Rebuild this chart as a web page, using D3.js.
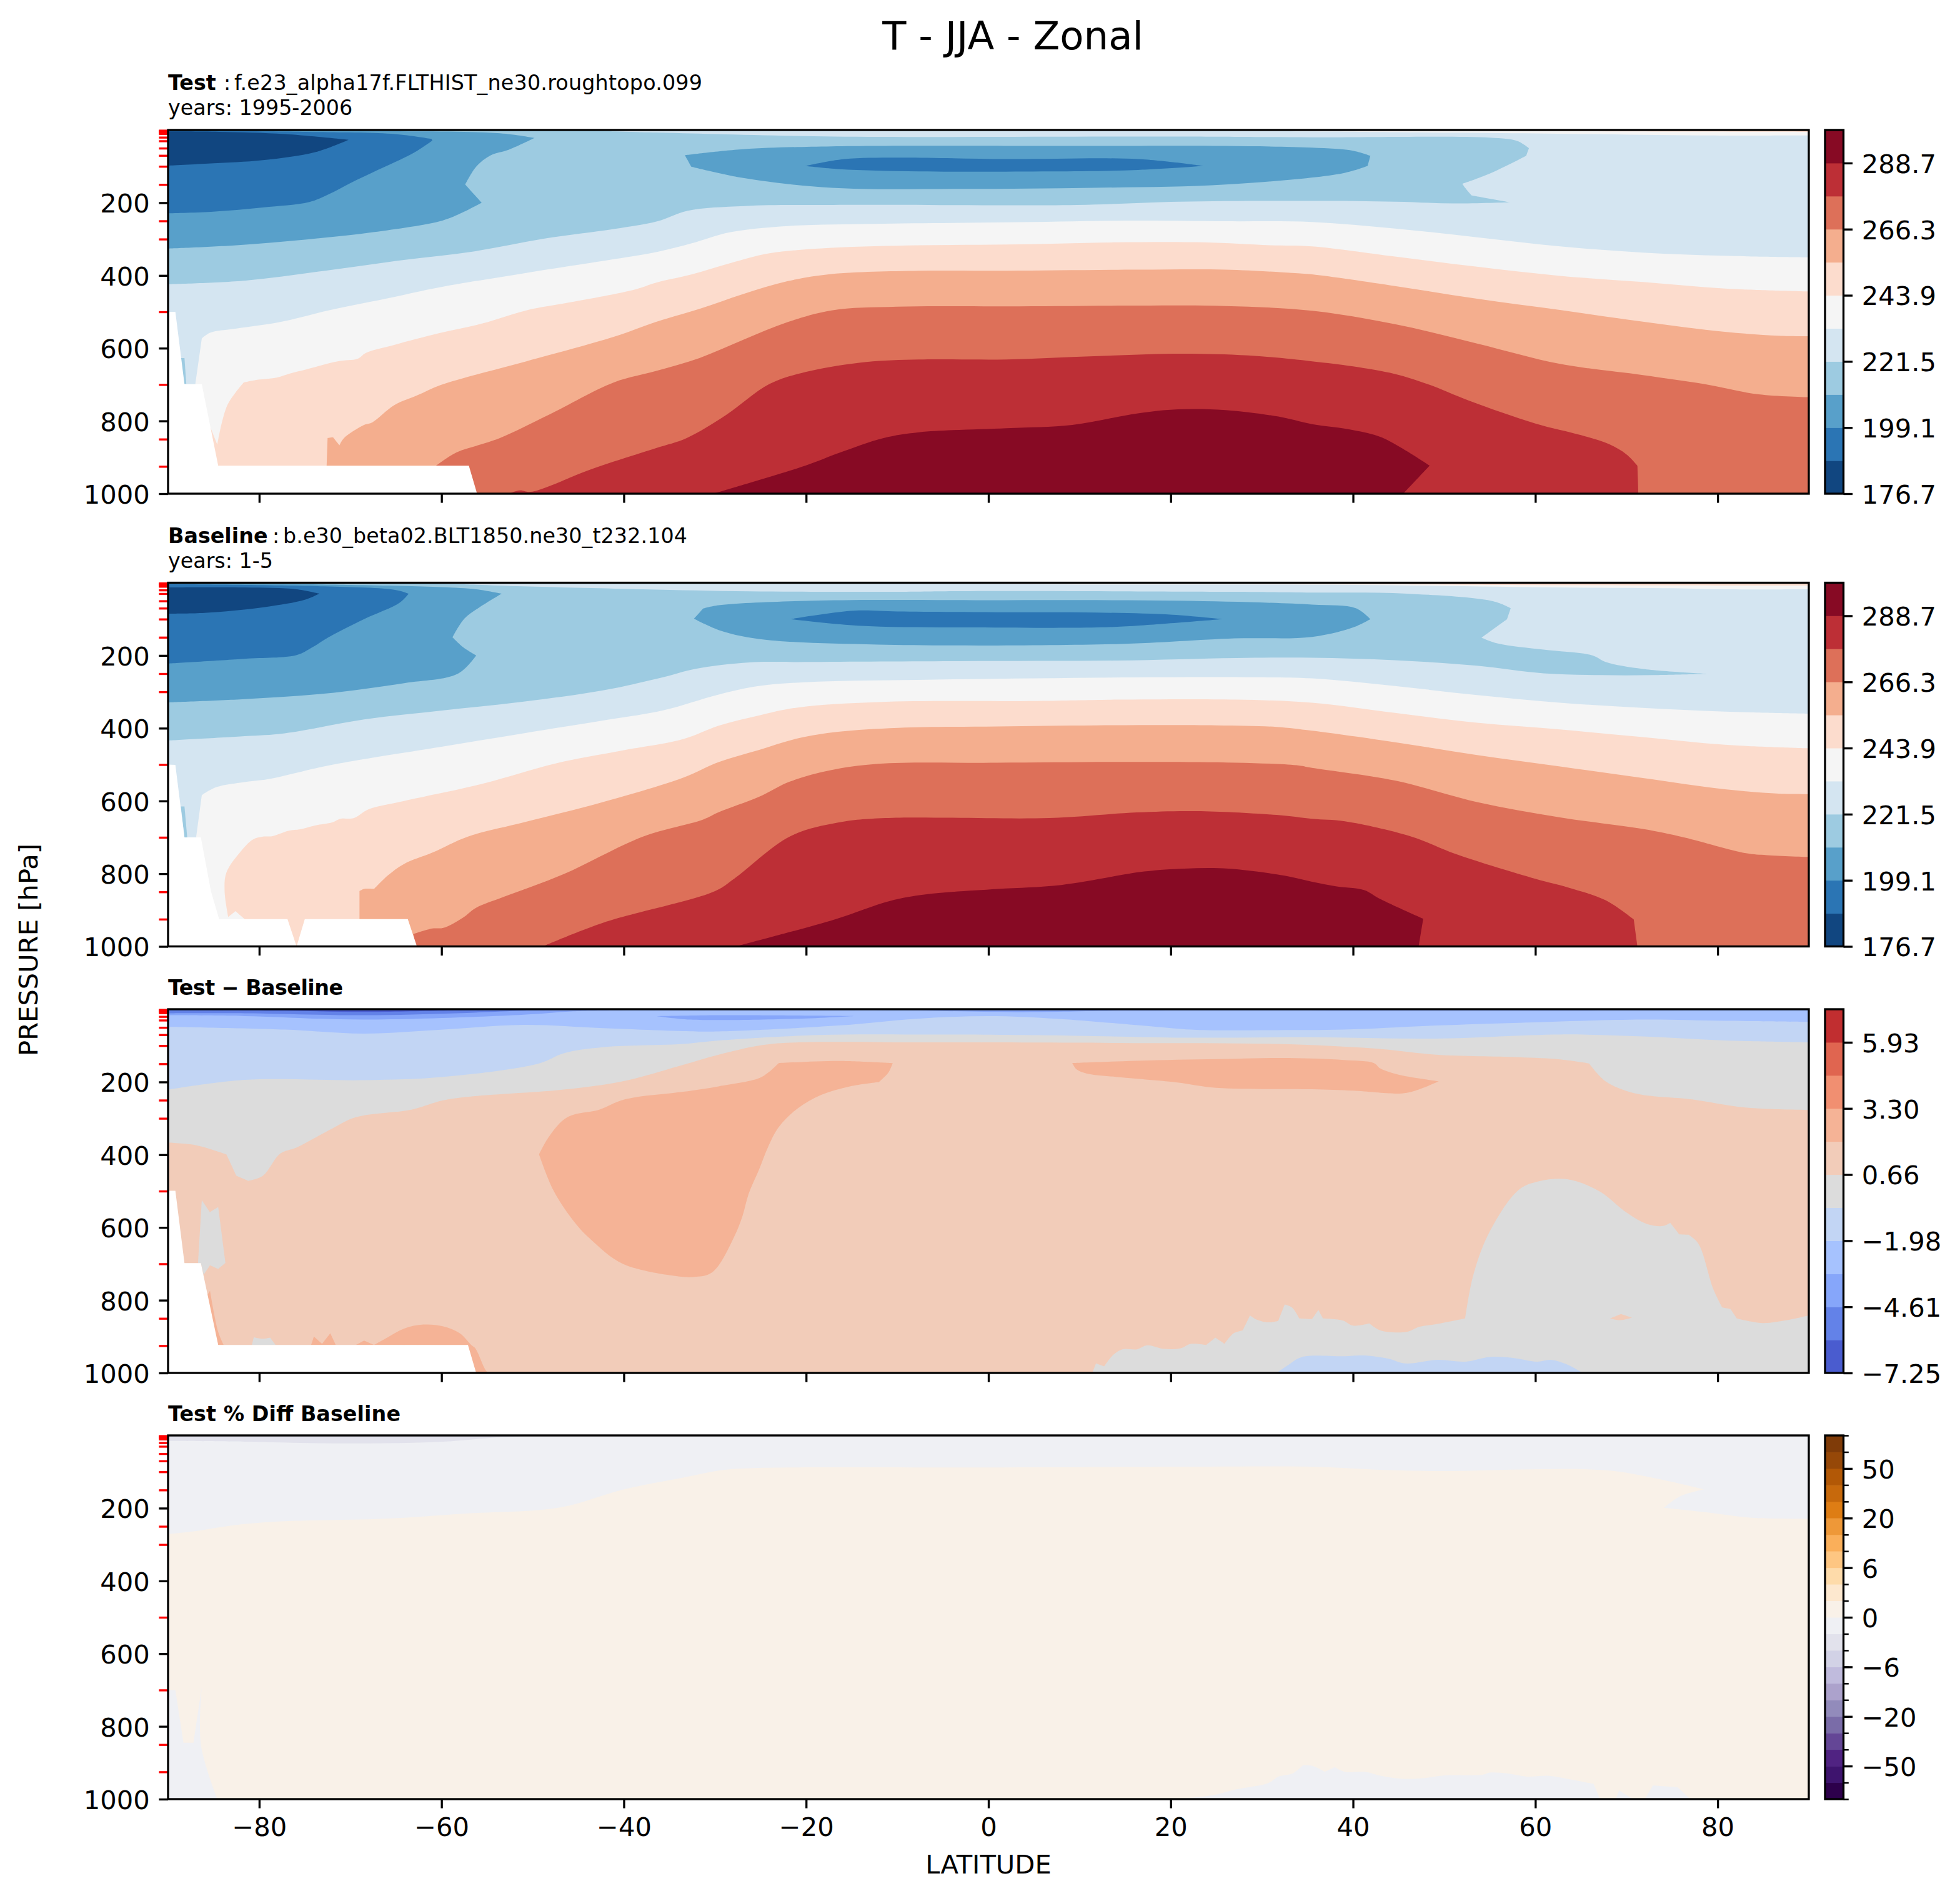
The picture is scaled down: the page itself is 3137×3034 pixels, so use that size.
<!DOCTYPE html>
<html>
<head>
<meta charset="utf-8">
<script src="https://cdn.jsdelivr.net/npm/d3@7/dist/d3.min.js"></script>
<style>
  body { margin: 0; background: #fff; }
  text { font-family: "DejaVu Sans", sans-serif; fill: #000; }
</style>
</head>
<body>
<svg id="chart" width="3137" height="3034"></svg>
<script>
// band colours + colorbar levels
const tempColors = ["#114680","#2b75b4","#58a0ca","#9dcbe1","#d4e5f1","#f5f5f5","#fcdccd","#f4ae8e","#dd7059","#bd2f36","#870a24"];
const tempLevels = [176.7,187.9,199.1,210.3,221.5,232.7,243.9,255.1,266.3,277.5,288.7,299.9];
const tempTicks = [176.7,199.1,221.5,243.9,266.3,288.7];

const diffColors = ["#4a5ccf","#6382e8","#86a6fa","#a6c2fe","#c2d5f4","#dcdcdc","#f2ccb9","#f5b396","#f18f71","#e06550","#c12e30"];
const diffLevels = [-7.25,-5.93,-4.61,-3.30,-1.98,-0.66,0.66,1.98,3.30,4.61,5.93,7.25];
const diffTicks = [-7.25,-4.61,-1.98,0.66,3.30,5.93];

const pctColors = ["#2d004b","#3e146e","#502382","#644696","#7a6ca8","#928bbb","#aca2cc","#c0bbdd","#d2d2e6","#e2e2ec","#eff0f4","#f9f1e8","#fde8cf","#fedbaa","#fec682","#faaf5a","#ee9838","#de7d14","#c7690c","#b25806","#964808","#7f3b08"];
const pctLevels = [-100,-75,-50,-40,-30,-20,-15,-10,-6,-4,-2,0,2,4,6,10,15,20,30,40,50,75,100];
const pctTicks = [-50,-20,-6,0,6,20,50];

const latTicks = [-80,-60,-40,-20,0,20,40,60,80];
const presTicks = [200,400,600,800,1000];
const redLevels = [1,2,3,5,7,10,20,30,50,70,100,150,250,300,500,700,850,925];

// ---- Test panel, contour lines as [lat, pressure]
const testTop5 = [[-90,0],[40,0.5],[55,2],[70,4],[90,5]];
const testTop4 = [[-90,0],[35,4],[44,6],[55,8],[65,11],[78,15],[90,15]];
const testC3 = [[-90,1],[-45,1],[-41,4],[-36.5,7],[-17,18],[21,18],[35.5,20],[55,21],[58,30],[59.3,50],[59,71],[55,120],[52,148],[52.3,159],[53,180],[57.2,198.8],[51,202],[44.6,197],[35.5,195],[21,197],[9.7,206],[-17,206],[-26.8,209],[-33,222],[-36.3,251],[-41,272],[-48.8,299],[-56.5,334],[-64,357],[-71.9,384],[-81.5,414],[-90,424]];
const testC2South = [[-90,1],[-70,3],[-53.6,9],[-49.8,22],[-52.6,54],[-54.6,69.5],[-56.2,101],[-57.4,150],[-55.6,200],[-57.7,227],[-59.9,249],[-67.5,281],[-74.8,301],[-82.5,317],[-90,326]];
const testC2Trop = [[-33.3,69.5],[-32.6,101],[-26.9,132],[-17.2,159],[-2.8,162],[11.6,159],[26,150],[38.9,119],[41.6,99],[41.9,71],[40,57],[35.5,48.7],[26,44],[11.6,44],[-17.2,45],[-26.9,53]];
const testC1Trop = [[-20.1,99],[-15.8,80],[-10,76],[2,80],[16.4,80],[23.6,99],[16.4,110],[6.8,114],[-7.6,114],[-16.3,108]];
const testC1South = [[-90,2],[-74.8,5],[-65.1,11],[-61.1,24.5],[-61,29],[-63.2,65],[-67,110],[-70,146],[-72.4,177],[-74.5,198],[-79.6,213],[-85.3,225],[-90,229]];
const testC0South = [[-90,4],[-84.4,5],[-77.2,11],[-70.2,27],[-73.8,60.5],[-79.6,83],[-85.3,92],[-90,98]];
const testSliver = [[-88.6,627],[-88.2,627],[-88,698],[-88.5,698]];
const testC5 = [[-87,699],[-86.3,573],[-85.4,557.5],[-82.5,546],[-77.7,528],[-72.4,496],[-65.2,459],[-60.3,433],[-50.7,393],[-41,355],[-36.3,335],[-32.6,312],[-28.3,281],[-22,264],[-12.4,258],[2,254],[16.4,249],[26,251],[35.5,253],[44.6,271],[53.6,295],[62.7,320],[71.8,337],[80.8,346],[90,350]];
const testC6 = [[-85.4,815],[-84.6,865],[-83.5,757],[-81.7,694],[-80.5,688],[-78.1,681],[-76.7,670],[-74.8,658],[-71.4,636],[-69.2,629],[-68.3,613],[-65.2,591],[-60.3,559],[-55.5,532],[-50.7,496],[-45.9,474],[-38.7,438],[-36.5,420],[-32.6,397.5],[-28.3,366],[-24,339],[-17.2,324],[-7.6,317],[2,315],[14,309],[23.6,309],[30.9,317],[35.5,320],[44.6,348],[53.6,376],[62.7,401],[71.8,418],[80.8,436],[90,444]];
const testC7 = [[-72.6,923],[-72.5,847],[-71.9,845],[-71.2,867],[-70.7,847],[-68.5,811],[-67.6,804],[-65.2,757],[-62.7,730],[-60.3,703],[-58,685],[-50.7,636],[-41,568],[-36.5,528],[-31.7,492],[-26.9,451],[-22,415.5],[-17.2,396],[-7.6,387],[2,387],[16.4,384],[26,384],[33.3,393],[35.5,397],[44.6,429],[53.6,464],[62.7,495],[71.8,527],[80.8,555],[86.7,565.6],[90,567]];
const testC8 = [[-60.6,923],[-58.4,887],[-56,867],[-53.6,847],[-48.3,784],[-41.1,694],[-36.5,663],[-31.7,627],[-26.9,577],[-22,528],[-17.2,496],[-10,486],[2,485],[16.4,483],[26,484],[35.5,497],[44.6,534],[53.6,587],[62.7,643],[71.8,674],[78.6,699],[84.5,727],[90,735]];
const testC9 = [[-52.6,1000],[-51.4,991],[-50.2,995],[-43.5,932],[-36.5,875],[-33.1,847],[-28.8,784],[-24,698],[-19.6,663],[-13.4,638],[-7.6,631],[2,631],[11.6,622],[21.2,615],[28.5,620],[35.5,636],[40,650],[44.6,671],[48.2,699],[52.7,744],[60,807],[65,839],[68.1,864],[70,892],[71.2,923],[71.3,1000]];
const testC10 = [[-30.2,1000],[-20.1,923],[-16.3,887],[-11.5,847],[-7.6,831],[2,820],[9.2,811],[16.4,779],[20.8,768],[26,770],[31.8,788],[35.5,809],[40,825],[43.2,846],[48.4,923],[45.5,1000]];
const testMissing = [[-90,500],[-89.2,500],[-88.2,699],[-86.3,699],[-84.5,923],[-57,923],[-56.1,1000],[-90,1000]];

// ---- Baseline panel
const baseTop5 = [[-90,0],[30,3],[50,5],[65,7],[90,8]];
const baseTop4 = [[-90,0],[-20,2],[10,5],[40,6],[62.7,13],[75,15],[81,18],[90,18]];
const baseC3 = [[-90,1],[-60,3],[-56.2,5.5],[-51,10],[-37.9,18],[-26.2,23.6],[-10.4,25],[-2,23],[27,25],[35.5,27],[45.9,30],[55.4,51],[57.3,70],[56.9,100],[54.1,151],[55.9,167],[60.9,184],[66.3,200],[67.7,217.7],[71.8,237],[79.1,250.6],[73.1,254],[67.2,254],[60.9,249],[53.6,228],[44.6,213],[35.5,206],[27.2,207],[14,214],[-3.4,215.6],[-20.9,218],[-26.2,219],[-32.2,237],[-35.7,260],[-42.3,296],[-51,327],[-59.8,351],[-68.5,376],[-77.2,414],[-81.6,422],[-90,434]];
const baseC2South = [[-90,1],[-70,6],[-60,12],[-56.2,18],[-53.4,30],[-55.8,67],[-57.5,99],[-58.8,150],[-57.6,178],[-56.2,200],[-58.2,250],[-64.1,276],[-72.9,305],[-81.6,320],[-90,329]];
const baseC2Trop = [[-32.3,99],[-31.3,71],[-29.6,62],[-18.7,49],[1,48],[21,49.5],[35.5,60],[40.3,70],[41.9,100],[40,123],[35.5,149],[27,153],[14,168.6],[-12.1,170],[-25.2,154.5],[-29.6,130]];
const baseC1Trop = [[-21.7,100],[-14.8,77],[-10,79],[1,81],[11.9,82],[20.2,88],[25.7,100],[16.3,118],[11.9,123],[-2.5,123],[-14.3,118]];
const baseC1South = [[-90,4],[-72.9,10],[-65,20],[-63.6,30],[-64.6,55],[-68.5,100],[-72.4,150],[-74.2,178],[-75.9,199],[-81.6,209],[-90,222]];
const baseC0South = [[-90,13],[-81.6,13],[-75.9,18],[-73.4,30],[-75,47],[-79.4,67],[-86,83],[-90,85]];
const baseSliver = [[-88.6,615],[-88.2,615],[-87.9,700],[-88.2,700]];
const baseC5 = [[-86.9,698],[-86.3,584],[-84.7,562],[-81.6,548],[-79,540],[-72.9,505],[-68.5,485],[-59.8,450],[-51,414],[-42.3,379],[-35.7,351],[-29.6,307.5],[-25.2,284],[-18.7,272],[-7.8,267],[5.3,263],[18.5,260],[29.4,260],[35.5,263],[44.6,284],[53.6,309],[62.7,330],[71.8,344],[80.8,354.4],[90,360]];
const baseC6 = [[-81.6,925],[-82.6,903],[-83.4,919],[-83.8,848],[-83.6,797],[-82,738],[-80.7,706],[-79.6,698],[-78.6,697],[-76.8,682],[-75.5,678],[-73.8,667],[-72,659],[-71.1,649],[-69.6,647],[-68,623],[-64.1,600],[-55.4,552],[-47.5,497],[-40.1,461],[-33.5,430],[-29.6,393],[-25.2,365],[-20.9,343],[-12.1,328],[5.3,325],[14,321.5],[27.2,321.5],[35.5,330],[44.6,358],[53.6,385],[62.7,403.5],[71.8,424.6],[80.8,445.6],[90,455]];
const baseC7 = [[-69,925],[-69,848],[-68.5,842],[-67.4,842],[-65.9,805],[-64.1,773],[-61,742],[-57.1,698],[-51,659],[-42.3,603],[-33.5,536],[-29.6,493],[-25.2,460],[-20.9,428],[-16.5,410],[-9.9,399],[1,395],[11.9,392],[25,392],[31.6,396.5],[35.5,407],[44.6,438.6],[53.6,473.6],[62.7,505],[71.8,537],[80.8,568],[86.7,580],[90,581]];
const baseC8 = [[-62.8,1000],[-63.1,966],[-61,950.6],[-59.8,949],[-57.6,920],[-56.3,895],[-53.2,864],[-46.6,801],[-37.9,698],[-31.3,651],[-29.6,631],[-25.2,589],[-21.8,547],[-17.4,516],[-12.1,498],[1,495],[18.5,492.6],[27.2,494.7],[33.8,501.7],[35.5,509],[44.6,544],[53.6,603],[62.7,645],[71.8,677],[76.3,700],[83.1,743.6],[85.4,749],[90,754]];
const baseC9 = [[-48.9,1000],[-42.3,935],[-30,848],[-27.9,814],[-21.8,698],[-16.5,659.5],[-11.3,647],[6.7,647],[16.3,631.4],[22.8,628],[31.6,638.5],[35.5,649],[39.1,656],[46.4,698],[51.4,747],[60,814],[63.6,838],[67.7,873],[70.8,926],[71.2,1000]];
const baseC10 = [[-27.7,1000],[-16.9,926],[-10.8,875],[-6.9,857],[1,842],[8,831],[17.1,794],[21.5,786],[26.3,786],[32.4,805],[35.5,822],[38.2,835],[41.2,845],[43,870],[47.7,924],[47.2,1000]];
const baseMissing = [[-90,500],[-89.2,501],[-88.2,700],[-86.4,700],[-85.3,848],[-84.4,925],[-76.9,925],[-75.9,1000],[-75,925],[-63.7,925],[-62.7,1000],[-90,1000]];

// ---- Test - Baseline panel
const diffGrey = [[-90,367],[-86.9,374],[-83.6,399],[-82.5,458],[-81.2,472],[-79.6,458],[-77.7,397],[-75.9,380],[-72,328],[-69.4,297],[-63.3,276],[-59.3,248],[-46.6,221],[-40.1,198],[-33.5,153],[-29.6,125],[-24.8,98.4],[-20.9,91],[-7.8,91],[15.8,93],[31.6,95.5],[42.3,108],[49.1,125],[58.2,132],[62.7,138],[65.9,149],[67.7,198],[70.9,231],[77.2,248],[82.2,268],[85.4,274],[90,277]];
const diffLight = [[-90,221],[-81.6,194],[-68.5,195],[-59.8,186],[-49.3,149],[-46.6,121],[-42.3,104.4],[-33.5,95.5],[-29.6,86],[-18.7,71],[-7.8,69.4],[9.7,73],[20.6,78],[35.5,77],[49.1,80.6],[62.7,69.4],[71.8,74.6],[80.8,85.8],[90,91]];
const diffBlue3 = [[-90,48.5],[-77.2,56],[-68.5,67],[-59.8,56],[-51,43],[-42.3,52],[-33.5,60],[-29.6,61],[-16.5,44.8],[-7.8,26],[0,18.7],[7.5,26],[18.5,48.5],[22.8,56.7],[31.6,57.5],[39,56],[49.1,44.8],[58.2,37.3],[71.8,28.4],[80.8,32],[90,35]];
const diffBlue2 = [[-90,16.5],[-81.6,18.7],[-68.5,28.4],[-51,15],[-45.8,6],[-42.3,3.8],[-10,3],[3,8],[15,4],[50,4],[90,3]];
const diffLens = [[-36.4,18.7],[-32.7,28.4],[-20.9,26],[-14.8,18.7],[-27,16.5],[-32,17]];
const diffBlue1 = [[-90,11],[-81.6,11],[-68.5,16.5],[-58.4,11],[-51,4],[-46.6,1.5]];
const diffBlue0 = [[-90,2],[-77.2,4],[-68.5,7.5],[-59.8,4],[-55.4,2]];
const diffWarmWest = [[-49.3,399],[-48.2,350],[-46.2,297],[-42.7,276],[-39.9,248],[-33.5,227],[-29.6,212],[-25.2,190],[-24.2,175],[-23,148],[-16.5,142],[-10.5,148],[-11,175],[-12,200],[-15.2,212],[-18.3,235],[-21,274],[-23,324],[-24.2,380],[-25.2,443],[-26.3,507],[-27,570],[-27.9,626],[-29.7,708],[-30.7,729],[-32.2,736],[-33.5,736],[-40.1,700],[-43.6,633.5],[-45.3,589],[-47.7,499]];
const diffWarmEast = [[9.2,148],[18.5,140],[27.2,136],[32.9,134],[39,139.5],[42.3,148],[43,163],[45,180],[49.4,198],[47.7,216],[45.9,230],[44.6,232],[40,224],[35.5,220],[25,216],[20.6,201],[14,186],[10.8,177],[9.7,166]];
const diffHump = [[-67.4,923],[-65.9,902],[-64.1,878],[-62,867],[-59.8,872],[-58,891],[-56.7,924],[-56.3,932],[-55.2,991],[-54.9,1000],[-57,1000],[-57.1,924]];
const diffSpikeA = [[-69.4,923],[-68.5,911],[-67.4,923]];
const diffSpikeB = [[-74.3,923],[-74,900],[-73.1,920],[-72.2,891],[-71.6,923]];
const diffEdge = [[-85.8,790],[-85.4,774],[-84.5,887],[-83.9,923],[-84.5,923]];
const diffIsleA = [[-86.3,525],[-85.4,558],[-84.5,544],[-83.7,697],[-84.5,714],[-85.4,704],[-86.1,730],[-86.4,698],[-86.7,698]];
const diffIsleB = [[-80.8,923],[-80.6,902],[-79.6,906],[-78.8,903],[-78.2,923]];
const diffNorthGrey = [[11.4,1000],[11.8,974],[12.7,982],[13.7,950],[14.7,935],[16.3,935],[17.4,924],[19.3,934],[21.1,932],[22.2,920],[23.9,923],[24.9,903],[25.9,920],[26.9,891],[27.9,883],[28.7,842],[29.4,853],[30.7,861],[31.8,857],[32.5,812],[33.3,820],[34.1,850],[35.5,852],[36.2,827],[36.7,850],[38.9,856],[40,870],[41.8,864],[43,883],[45.9,887],[47.3,873],[49.1,866],[52.3,850],[53.2,730.4],[55,611],[58.2,496],[60.4,473],[62.7,466],[64.5,473],[67.2,503],[70,559],[72.2,590],[74,596],[74.8,587],[75.8,619],[76.8,620],[77.9,645],[79.5,768],[80.5,820],[81.4,824],[82.1,850],[84.9,863],[87.6,855],[90,842]];
const diffWarmIsle = [[68.2,850],[69.4,838],[70.6,848],[69.3,855]];
const diffBottomBlue = [[31.6,1000],[32.9,978],[34.4,956],[39,954],[41.2,952],[43.9,961],[45.7,974],[49.3,964],[52.3,969],[55,956],[57.3,958],[60.2,969],[61.7,964],[63.6,978],[65.2,1000]];
const diffMissing = [[-90,499],[-89.2,499],[-88.2,698],[-86.4,698],[-84.5,923],[-57.1,923],[-56.2,1000],[-90,1000]];

// ---- % diff panel
const pctUpper = [[-90,271],[-87.3,264],[-82.5,246],[-77.2,236],[-66.3,229],[-57.6,215],[-47,198],[-40.1,149],[-33.5,116],[-29.1,95],[-26.2,90],[0,88],[21.8,86],[35.3,86],[43.4,95],[49.9,98],[59.6,93],[67.8,96],[73.2,118],[78.5,148],[75.9,167],[74.1,199],[78.6,211],[84,227],[90,229]];
const pctTopSliver = [[-90,15],[-81.6,17],[-72.9,21.5],[-66.3,21.5],[-59.8,17],[-54,5.6],[-51,2]];
const pctPole = [[-90,700],[-89.2,700],[-88.3,845],[-87.2,845],[-86.3,691],[-86.4,850],[-84.6,1000],[-90,1000]];
const pctNorthA = [[20,1000],[23.2,994],[25,987],[27.2,973],[30.7,955.6],[31.8,938],[33.4,929],[34.5,907],[35.6,909],[36.9,925],[38,912],[39.1,925],[41.3,925],[42.9,935],[45.6,944],[47.8,942],[49.9,935],[54.2,933],[55,927],[56.9,929],[59.1,938],[61.5,936],[64.5,949],[66.4,958],[67.1,1000]];
const pctNorthB = [[68.8,1000],[69.2,976],[70.7,1000]];
const pctNorthC = [[72,1000],[72.9,962],[75.6,967],[77,1000]];

// band index, points, how to close: "below", "above", or closed as it is
const testLayers = [
  [6,[[-90,0],[90,0]],"below"],[5,testTop5,"below"],[4,testTop4,"below"],[3,testC3],[2,testC2South],[2,testC2Trop],[1,testC1Trop],[1,testC1South],[0,testC0South],[3,testSliver],
  [5,testC5,"below"],[6,testC6,"below"],[7,testC7,"below"],[8,testC8,"below"],[9,testC9,"below"],[10,testC10,"below"],[-1,testMissing]
];
const baseLayers = [
  [6,[[-90,0],[90,0]],"below"],[5,baseTop5,"below"],[4,baseTop4,"below"],[3,baseC3],[2,baseC2South],[2,baseC2Trop],[1,baseC1Trop],[1,baseC1South],[0,baseC0South],[3,baseSliver],
  [5,baseC5,"below"],[6,baseC6,"below"],[7,baseC7,"below"],[8,baseC8,"below"],[9,baseC9,"below"],[10,baseC10,"below"],[-1,baseMissing]
];
const diffLayers = [
  [6,[[-90,0],[90,0]],"below"],[5,diffGrey,"above"],[4,diffLight,"above"],[3,diffBlue3,"above"],[2,diffBlue2,"above"],[2,diffLens],[1,diffBlue1,"above"],[0,diffBlue0,"above"],
  [7,diffWarmWest],[7,diffWarmEast],[7,diffHump],[7,diffSpikeA],[7,diffSpikeB],[7,diffEdge],[5,diffIsleA],[5,diffIsleB],
  [5,diffNorthGrey,"below"],[6,diffWarmIsle],[4,diffBottomBlue],[-1,diffMissing]
];
const pctLayers = [
  [11,[[-90,0],[90,0]],"below"],[10,pctUpper,"above"],[9,pctTopSliver,"above"],[10,pctPole],[10,pctNorthA],[10,pctNorthB],[10,pctNorthC]
];

const svg = d3.select("#chart");
const bigFont = 41.67, smallFont = 33.33, tickLen = 14.6, lw = 3.33;
const left = 269, right = 2895, panelH = 582;
const barLeft = 2921, barRight = 2950.5;
const tops = [208, 932.5, 1615, 2297];

const x = d3.scaleLinear().domain([-90, 90]).range([left, right]);

const minus = s => String(s).replace("-", "\u2212");

// points turning harder than this stay sharp, the rest get rounded by the curve
const sharpTurn = 35 * Math.PI / 180;

function smoothPath(pix) {
  const out = [];
  pix.forEach((p, i) => {
    out.push(p);
    if (i == 0 || i == pix.length - 1) return;
    const a = Math.atan2(p[1] - pix[i - 1][1], p[0] - pix[i - 1][0]);
    const b = Math.atan2(pix[i + 1][1] - p[1], pix[i + 1][0] - p[0]);
    let turn = Math.abs(a - b);
    if (turn > Math.PI) turn = 2 * Math.PI - turn;
    if (turn > sharpTurn) out.push([p[0], p[1]]);
  });
  return d3.line().curve(d3.curveCatmullRom.alpha(0.5))(out);
}

function drawPanel(top, layers, colors, showX) {
  const y = d3.scaleLinear().domain([0, 1000]).range([top, top + panelH]);
  const id = "clip" + Math.round(top);
  svg.append("clipPath").attr("id", id).append("rect")
    .attr("x", left).attr("y", top).attr("width", right - left).attr("height", panelH);

  const line = d3.line().x(d => x(d[0])).y(d => y(d[1]));
  const toPix = d => [x(d[0]), y(d[1])];
  const g = svg.append("g").attr("clip-path", "url(#" + id + ")");
  g.selectAll("path").data(layers).enter().append("path")
    .attr("fill", d => d[0] < 0 ? "#fff" : colors[d[0]])
    .attr("d", d => {
      const pts = d[1];
      const a = pts[0][0], b = pts[pts.length - 1][0];
      // missing data keeps its straight edges
      if (d[0] < 0) return line(pts) + "Z";
      if (d[2] == "below") return smoothPath(pts.map(toPix)) + "L" + x(b) + "," + y(1000) + "L" + x(a) + "," + y(1000) + "Z";
      if (d[2] == "above") return smoothPath(pts.map(toPix)) + "L" + x(b) + "," + y(0) + "L" + x(a) + "," + y(0) + "Z";
      return smoothPath(pts.concat([pts[0]]).map(toPix)) + "Z";
    });

  // red ticks for the levels
  const red = svg.append("g").attr("transform", "translate(" + left + ",0)")
    .call(d3.axisLeft(y).tickValues(redLevels).tickSize(tickLen).tickFormat(""));
  red.select(".domain").remove();
  red.selectAll("line").attr("stroke", "#ff0000").attr("stroke-width", lw);

  const ax = svg.append("g").attr("transform", "translate(" + left + ",0)")
    .call(d3.axisLeft(y).tickValues(presTicks).tickSize(tickLen).tickPadding(14.6).tickFormat(d => String(d)));
  ax.select(".domain").remove();
  ax.selectAll("line").attr("stroke", "#000").attr("stroke-width", lw);
  ax.selectAll("text").attr("font-size", bigFont).attr("font-family", "DejaVu Sans").attr("dy", ".37em");

  const bx = svg.append("g").attr("transform", "translate(0," + (top + panelH) + ")")
    .call(d3.axisBottom(x).tickValues(latTicks).tickSize(tickLen).tickPadding(14.6)
      .tickFormat(d => showX ? minus(d) : ""));
  bx.select(".domain").remove();
  bx.selectAll("line").attr("stroke", "#000").attr("stroke-width", lw);
  bx.selectAll("text").attr("font-size", bigFont).attr("font-family", "DejaVu Sans");

  svg.append("rect").attr("x", left).attr("y", top).attr("width", right - left).attr("height", panelH)
    .attr("fill", "none").attr("stroke", "#000").attr("stroke-width", lw);
}

// evenly spaced colorbar, one slot for every band
function drawBar(top, levels, colors, ticks, fmt, minorTicks) {
  const idx = d3.scaleLinear().domain([0, levels.length - 1]).range([top + panelH, top]);
  const pos = v => idx(levels.indexOf(v));
  svg.append("g").selectAll("rect").data(colors).enter().append("rect")
    .attr("x", barLeft).attr("width", barRight - barLeft)
    .attr("y", (d, i) => idx(i + 1)).attr("height", (d, i) => idx(i) - idx(i + 1) + 0.5)
    .attr("fill", d => d);
  if (minorTicks) {
    const m = svg.append("g").attr("transform", "translate(" + barRight + ",0)")
      .call(d3.axisRight(d3.scaleIdentity()).tickValues(levels.map(pos)).tickSize(8.3).tickFormat(""));
    m.select(".domain").remove();
    m.selectAll("line").attr("stroke", "#000").attr("stroke-width", 2.5);
  }
  const a = svg.append("g").attr("transform", "translate(" + barRight + ",0)")
    .call(d3.axisRight(d3.scaleIdentity()).tickValues(ticks.map(pos)).tickSize(tickLen).tickPadding(14.6)
      .tickFormat((d, i) => fmt(ticks[i])));
  a.select(".domain").remove();
  a.selectAll("line").attr("stroke", "#000").attr("stroke-width", lw);
  a.selectAll("text").attr("font-size", bigFont).attr("font-family", "DejaVu Sans").attr("dy", ".37em");
  svg.append("rect").attr("x", barLeft).attr("y", top).attr("width", barRight - barLeft).attr("height", panelH)
    .attr("fill", "none").attr("stroke", "#000").attr("stroke-width", lw);
}

drawPanel(tops[0], testLayers, tempColors, false);
drawPanel(tops[1], baseLayers, tempColors, false);
drawPanel(tops[2], diffLayers, diffColors, false);
drawPanel(tops[3], pctLayers, pctColors, true);

drawBar(tops[0], tempLevels, tempColors, tempTicks, d => d.toFixed(1));
drawBar(tops[1], tempLevels, tempColors, tempTicks, d => d.toFixed(1));
drawBar(tops[2], diffLevels, diffColors, diffTicks, d => minus(d.toFixed(2)));
drawBar(tops[3], pctLevels, pctColors, pctTicks, d => minus(d), true);

// titles
svg.append("text").attr("x", 1621).attr("y", 79).attr("text-anchor", "middle").attr("font-size", 62.5).text("T - JJA - Zonal");

function runTitle(top, bold, colonX, textX, rest, restWidth, years) {
  svg.append("text").attr("x", left).attr("y", top - 64).attr("font-size", smallFont).attr("font-weight", "bold").text(bold);
  svg.append("text").attr("x", colonX).attr("y", top - 64).attr("font-size", smallFont).text(":");
  svg.append("text").attr("x", textX).attr("y", top - 64).attr("font-size", smallFont)
    .attr("textLength", restWidth).attr("lengthAdjust", "spacing").text(rest);
  svg.append("text").attr("x", left).attr("y", top - 24).attr("font-size", smallFont).text(years);
}
runTitle(tops[0], "Test", 358, 375, "f.e23_alpha17f.FLTHIST_ne30.roughtopo.099", 749, "years: 1995-2006");
runTitle(tops[1], "Baseline", 436, 453, "b.e30_beta02.BLT1850.ne30_t232.104", 647, "years: 1-5");
svg.append("text").attr("x", left).attr("y", tops[2] - 23).attr("font-size", smallFont).attr("font-weight", "bold")
  .attr("textLength", 280).attr("lengthAdjust", "spacing").text("Test \u2212 Baseline");
svg.append("text").attr("x", left).attr("y", tops[3] - 23).attr("font-size", smallFont).attr("font-weight", "bold")
  .attr("textLength", 372).attr("lengthAdjust", "spacing").text("Test % Diff Baseline");

svg.append("text").attr("x", 1582).attr("y", 2998).attr("text-anchor", "middle").attr("font-size", bigFont).text("LATITUDE");
svg.append("text").attr("transform", "translate(60,1520) rotate(-90)").attr("text-anchor", "middle").attr("font-size", bigFont).text("PRESSURE [hPa]");
</script>
</body>
</html>
